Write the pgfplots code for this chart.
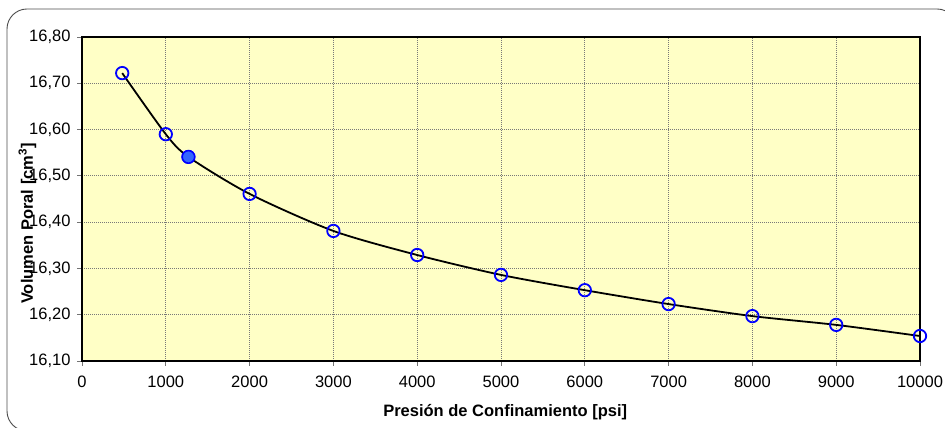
\documentclass[border=0pt]{standalone}
\usepackage{fontspec}
\setmainfont{Liberation Sans}
\usepackage{pgfplots}
\pgfplotsset{compat=1.18}

\definecolor{plotbg}{RGB}{255,255,198}
\definecolor{markblue}{RGB}{0,0,255}
\definecolor{markfill}{RGB}{51,102,255}
\definecolor{gridgray}{RGB}{120,120,120}

% Pore volume against confining pressure
\pgfplotstableread{
p      v
480    16.722
1000   16.590
1270   16.541
2000   16.461
3000   16.381
4000   16.329
5000   16.286
6000   16.253
7000   16.223
8000   16.197
9000   16.178
10000  16.154
}\porevol

\begin{document}
\begin{tikzpicture}
\useasboundingbox (0pt,0pt) rectangle (945pt,428pt);
\draw[rounded corners=20pt, line width=0.9pt, black!70] (7pt,-3pt) rectangle (957pt,419pt);
\begin{axis}[
  at={(82pt,67pt)}, anchor=south west,
  scale only axis, width=838pt, height=324pt,
  xmin=0, xmax=10000, ymin=16.1, ymax=16.8,
  xtick={0,1000,2000,3000,4000,5000,6000,7000,8000,9000,10000},
  ytick={16.1,16.2,16.3,16.4,16.5,16.6,16.7,16.8},
  xtick pos=bottom, ytick pos=left,
  tick align=outside, major tick length=5pt,
  tick style={black!55, line width=0.8pt},
  /pgf/number format/assume math mode=true,
  /pgf/number format/1000 sep={},
  yticklabel={\pgfmathprintnumber[fixed,fixed zerofill,precision=2,use comma]{\tick}},
  tick label style={font=\fontsize{16.5}{19}\selectfont},
  xticklabel style={yshift=-6pt},
  yticklabel style={xshift=-3pt},
  scaled ticks=false,
  axis line style={line width=1.8pt},
  axis background/.style={fill=plotbg},
  grid=major,
  major grid style={dash pattern=on 1pt off 1pt, gridgray, line width=0.8pt},
  xlabel={\bfseries Presión de Confinamiento [psi]},
  xlabel style={at={(axis description cs:0.505,-0.1728)}, anchor=base, font=\fontsize{16.5}{19}\selectfont},
  ylabel={\bfseries Volumen Poral [cm\textsuperscript{3}]},
  ylabel style={at={(axis description cs:-0.0585,0.4244)}, anchor=base, font=\fontsize{16.5}{19}\selectfont},
]
% open markers for the measured points
\addplot[only marks, mark=o, mark size=6.2pt, markblue, mark options={line width=1.8pt}]
  table[x=p, y=v] {\porevol};
% highlighted point
\addplot[only marks, mark=*, mark size=6.2pt, mark options={draw=markblue, fill=markfill, line width=1.4pt}]
  coordinates {(1270,16.541)};
% trend curve through the points
\addplot[smooth, tension=0.45, black, line width=1.8pt, no marks]
  table[x=p, y=v] {\porevol};
\end{axis}
\end{tikzpicture}
\end{document}
